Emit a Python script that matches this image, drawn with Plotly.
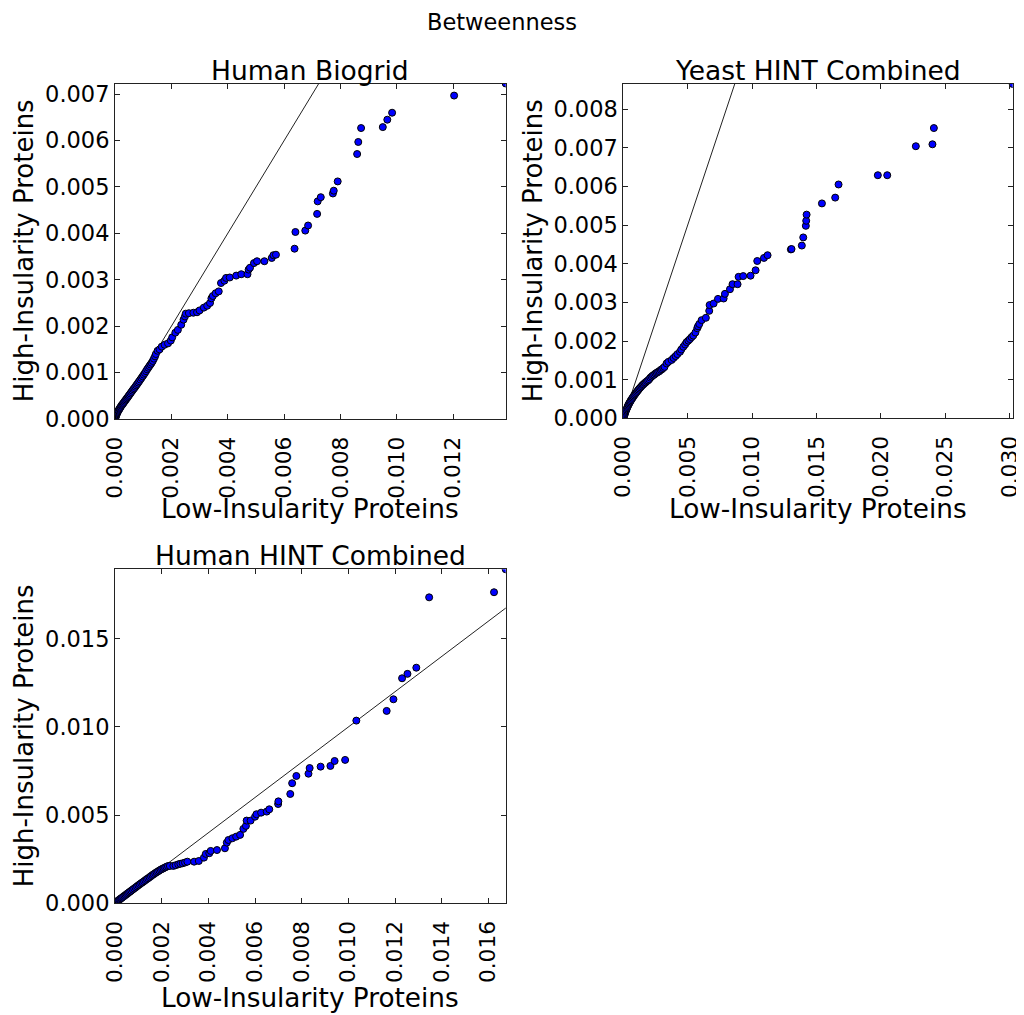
import plotly.graph_objects as go

# ---------------- data ----------------
# Human Biogrid
hb_low = [0.000,0.005,0.010,0.020,0.030,0.040,0.055,0.070,0.085,0.100,0.120,0.140,0.160,0.180,0.200,0.225,0.250,0.275,0.300,0.330,0.360,0.390,0.420,0.450,0.480,0.510,0.545,0.580,0.615,0.650,0.685,0.720,0.755,0.790,0.825,0.860,0.900,0.940,0.980,1.020,1.060,1.100,1.140,1.180,1.220,1.260,1.300,1.340,1.380,1.420,1.450,
          1.51,1.58,1.66,1.76,1.88,1.98,2.03,2.14,2.23,2.35,2.43,2.48,2.51,2.62,2.78,2.91,3.00,3.15,3.27,3.37,3.42,3.47,3.57,3.68,3.76,3.88,3.94,4.07,4.30,4.48,4.70,4.74,4.79,4.93,5.04,5.30,5.56,5.62,5.71,6.37,6.40,6.75,6.85,7.17,7.19,7.30,7.73,7.76,7.90,8.59,8.63,8.73,9.50,9.66,9.83,12.03,13.86]
hb_high = [0.000,0.010,0.020,0.040,0.060,0.080,0.100,0.120,0.140,0.160,0.180,0.200,0.220,0.240,0.260,0.285,0.305,0.325,0.345,0.370,0.395,0.420,0.445,0.470,0.495,0.520,0.550,0.580,0.610,0.640,0.665,0.695,0.725,0.755,0.785,0.815,0.850,0.885,0.920,0.955,0.990,1.030,1.070,1.105,1.140,1.175,1.210,1.250,1.300,1.350,1.400,
           1.47,1.50,1.56,1.60,1.63,1.69,1.76,1.86,1.92,2.03,2.14,2.21,2.27,2.28,2.29,2.30,2.34,2.40,2.44,2.50,2.60,2.65,2.71,2.75,2.93,2.98,3.04,3.05,3.09,3.12,3.12,3.22,3.26,3.36,3.40,3.40,3.47,3.53,3.54,3.67,4.03,4.06,4.17,4.42,4.69,4.78,4.86,4.92,5.12,5.71,5.97,6.27,6.29,6.45,6.60,6.97,7.23]

# Yeast HINT Combined
yh_low = [0.00,0.02,0.05,0.08,0.11,0.14,0.17,0.20,0.24,0.28,0.32,0.36,0.40,0.45,0.50,0.55,0.60,0.66,0.72,0.78,0.84,0.90,0.97,1.04,1.11,1.18,1.25,1.33,1.41,1.49,1.57,1.65,1.74,1.83,1.92,2.01,2.10,2.20,2.30,2.40,2.50,2.60,2.70,2.80,2.90,3.00,3.10,3.20,
          3.36,3.50,3.75,3.90,4.06,4.20,4.40,4.50,4.66,4.80,4.91,5.05,5.17,5.30,5.43,5.60,5.74,5.80,5.90,6.08,6.41,6.67,6.70,7.01,7.35,7.79,7.89,8.28,8.48,8.87,8.95,9.31,9.88,10.27,10.40,10.92,11.20,13.01,13.06,13.86,13.97,14.17,14.20,14.23,15.42,16.45,16.71,19.76,20.49,22.71,24.00,24.11,30.23]
yh_high = [0.00,0.02,0.05,0.08,0.11,0.14,0.17,0.20,0.23,0.26,0.29,0.32,0.35,0.38,0.41,0.44,0.47,0.50,0.53,0.56,0.59,0.62,0.65,0.68,0.71,0.74,0.77,0.80,0.83,0.86,0.88,0.91,0.93,0.96,0.98,1.01,1.05,1.08,1.11,1.13,1.16,1.18,1.20,1.22,1.25,1.27,1.30,1.33,
           1.42,1.46,1.51,1.56,1.61,1.66,1.72,1.78,1.85,1.91,1.97,2.01,2.05,2.10,2.14,2.22,2.33,2.38,2.44,2.54,2.60,2.78,2.93,2.97,3.09,3.10,3.22,3.34,3.47,3.47,3.66,3.68,3.69,3.83,4.07,4.15,4.22,4.37,4.38,4.47,4.68,4.98,5.11,5.27,5.56,5.71,6.05,6.29,6.29,7.04,7.09,7.51,8.65]

# Human HINT Combined
hh_low = [0.00,0.03,0.06,0.10,0.14,0.18,0.22,0.26,0.30,0.35,0.40,0.45,0.50,0.55,0.60,0.65,0.70,0.76,0.82,0.88,0.94,1.00,1.06,1.12,1.18,1.24,1.30,1.36,1.42,1.48,1.54,1.60,1.66,1.72,1.78,1.84,1.90,1.96,2.02,2.08,2.14,2.20,2.27,
          2.35,2.50,2.60,2.71,2.80,2.90,3.00,3.10,3.39,3.59,3.81,3.89,4.04,4.10,4.37,4.71,4.79,4.86,5.03,5.19,5.36,5.50,5.61,5.64,5.81,6.00,6.06,6.26,6.50,6.61,6.99,7.00,7.51,7.59,7.77,8.29,8.34,8.81,9.23,9.41,9.86,10.34,11.64,11.93,12.30,12.53,12.91,13.46,16.24,16.74]
hh_high = [0.00,0.04,0.08,0.12,0.16,0.20,0.24,0.28,0.32,0.37,0.42,0.47,0.52,0.57,0.62,0.67,0.72,0.78,0.84,0.90,0.96,1.02,1.08,1.14,1.19,1.25,1.31,1.37,1.42,1.48,1.54,1.60,1.65,1.71,1.76,1.81,1.86,1.91,1.95,1.99,2.03,2.07,2.11,
           2.12,2.12,2.16,2.21,2.24,2.27,2.31,2.36,2.36,2.40,2.59,2.80,2.84,2.97,3.02,3.12,3.44,3.59,3.69,3.78,3.88,4.22,4.39,4.69,4.69,4.91,5.05,5.14,5.20,5.33,5.63,5.78,6.20,6.81,7.22,7.35,7.67,7.75,7.79,8.07,8.13,10.36,10.91,11.57,12.76,13.01,13.36,17.35,17.64,18.94]

SCALE = 1e-3  # values above are in units of 1e-3

titles = ["Human Biogrid", "Yeast HINT Combined", "Human HINT Combined"]
suptitle = "Betweenness"
xlabel = "Low-Insularity Proteins"
ylabel = "High-Insularity Proteins"
x_ticks = [[0, 0.002, 0.004, 0.006, 0.008, 0.010, 0.012],
           [0, 0.005, 0.010, 0.015, 0.020, 0.025, 0.030],
           [0, 0.002, 0.004, 0.006, 0.008, 0.010, 0.012, 0.014, 0.016]]
y_ticks = [[0, 0.001, 0.002, 0.003, 0.004, 0.005, 0.006, 0.007],
           [0, 0.001, 0.002, 0.003, 0.004, 0.005, 0.006, 0.007, 0.008],
           [0, 0.005, 0.010, 0.015]]

datasets = [(hb_low, hb_high), (yh_low, yh_high), (hh_low, hh_high)]

# ---------------- layout geometry ----------------
# the page body has an 8px margin, so the figure starts at (8, 8) of the window
OX, OY = 8, 8
W, H = 1016, 1007
FONT = "DejaVu Sans"
panels = [  # (left, right, top, bottom) in window pixels
    (115, 505.7, 83.5, 419),
    (623.3, 1012.7, 84, 418.3),
    (115, 505.7, 569.3, 903.3),
]
xlabel_y = [509, 509, 998]
ylabel_x = [24, 533, 24]
title_y = [70, 70, 555]


def px(x):
    return (x - OX) / W


def py(y):
    return 1 - (y - OY) / H


fig = go.Figure()
annotations = []

for i, ((lo, hi), (l, r, t, b)) in enumerate(zip(datasets, panels)):
    n = "" if i == 0 else str(i + 1)
    xs = [v * SCALE for v in lo]
    ys = [v * SCALE for v in hi]
    xmax, ymax = max(xs), max(ys)
    lim = max(xmax, ymax)
    fig.add_trace(go.Scatter(x=[0, lim], y=[0, lim], mode="lines",
                             line=dict(color="#222222", width=1),
                             xaxis="x" + n, yaxis="y" + n, showlegend=False,
                             hoverinfo="skip"))
    fig.add_trace(go.Scatter(x=xs, y=ys, mode="markers",
                             marker=dict(color="#0000ff", size=7,
                                         line=dict(color="black", width=1)),
                             xaxis="x" + n, yaxis="y" + n, showlegend=False))
    common = dict(showgrid=False, zeroline=False, showline=True, linecolor="#222222",
                  linewidth=1, mirror="allticks", ticks="inside", ticklen=5,
                  tickwidth=1, tickcolor="#222222", tickformat=".3f", automargin=False)
    fig.layout["xaxis" + n] = dict(common, domain=[px(l), px(r)], range=[0, xmax],
                                   anchor="y" + n, tickvals=x_ticks[i], tickangle=-90,
                                   ticklabelstandoff=8,
                                   tickfont=dict(family=FONT, size=21.7, color="black"))
    fig.layout["yaxis" + n] = dict(common, domain=[py(b), py(t)], range=[0, ymax],
                                   anchor="x" + n, tickvals=y_ticks[i],
                                   ticklabelstandoff=0,
                                   tickfont=dict(family=FONT, size=22.5, color="black"))
    cx = (l + r) / 2
    cy = (t + b) / 2
    annotations.append(dict(text=titles[i], x=px(cx), y=py(title_y[i]),
                            xref="paper", yref="paper", xanchor="center", yanchor="middle",
                            showarrow=False, font=dict(family=FONT, size=26.5, color="black")))
    annotations.append(dict(text=xlabel, x=px(cx), y=py(xlabel_y[i]),
                            xref="paper", yref="paper", xanchor="center", yanchor="middle",
                            showarrow=False, font=dict(family=FONT, size=26.3, color="black")))
    annotations.append(dict(text=ylabel, x=px(ylabel_x[i]), y=py(cy),
                            xref="paper", yref="paper", xanchor="center", yanchor="middle",
                            textangle=-90, showarrow=False,
                            font=dict(family=FONT, size=26, color="black")))

annotations.append(dict(text=suptitle, x=px(502), y=py(22), xref="paper", yref="paper",
                        xanchor="center", yanchor="middle", showarrow=False,
                        font=dict(family=FONT, size=22.5, color="black")))

fig.update_layout(width=W, height=H, margin=dict(l=0, r=0, t=0, b=0, autoexpand=False),
                  paper_bgcolor="white", plot_bgcolor="white",
                  annotations=annotations, showlegend=False,
                  font=dict(family=FONT, color="black"))

fig.write_html("out.html")
